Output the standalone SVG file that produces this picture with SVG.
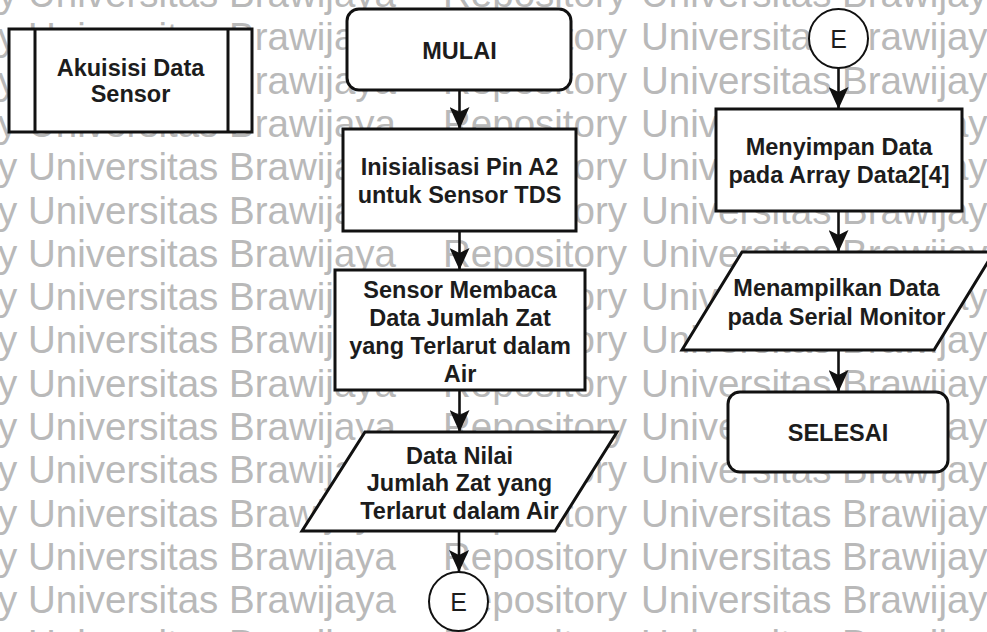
<svg xmlns="http://www.w3.org/2000/svg" xmlns:xlink="http://www.w3.org/1999/xlink" width="987" height="632" viewBox="0 0 987 632">
  <style>
    .wm { font-family: "Liberation Sans", Arial, sans-serif; font-size: 38.5px; fill: #b9b9b9; }
    .box { fill: #ffffff; stroke: #111111; stroke-width: 3; }
    .conn { fill: #ffffff; stroke: #111111; stroke-width: 2; }
    .edge { fill: none; stroke: #111111; stroke-width: 2.6; }
    .lbl { font-family: "Liberation Sans", Arial, sans-serif; font-size: 23.5px; font-weight: bold; fill: #1c1c1c; text-anchor: middle; }
    .clbl { font-family: "Liberation Sans", Arial, sans-serif; font-size: 25px; fill: #1c1c1c; text-anchor: middle; }
  </style>
  <defs>
    <marker id="arrow" markerUnits="userSpaceOnUse" viewBox="0 0 22 20" refX="22" refY="10" markerWidth="22" markerHeight="20" orient="auto">
      <path d="M0,0 L22,10 L0,20 L5,10 Z" fill="#111111"/>
    </marker>
    <g id="wm-row">
      <text class="wm" x="-2" y="0">y Universitas Brawijaya</text>
      <text class="wm" x="443" y="0">Repository</text>
      <text class="wm" x="641" y="0">Universitas Brawijaya</text>
    </g>
  </defs>

  <rect width="987" height="632" fill="#ffffff"/>

  <!-- background watermark rows -->
  <g id="watermark">
    <use xlink:href="#wm-row" y="7"/>
    <use xlink:href="#wm-row" y="50.3"/>
    <use xlink:href="#wm-row" y="93.6"/>
    <use xlink:href="#wm-row" y="136.9"/>
    <use xlink:href="#wm-row" y="180.2"/>
    <use xlink:href="#wm-row" y="223.5"/>
    <use xlink:href="#wm-row" y="266.8"/>
    <use xlink:href="#wm-row" y="310.1"/>
    <use xlink:href="#wm-row" y="353.4"/>
    <use xlink:href="#wm-row" y="396.7"/>
    <use xlink:href="#wm-row" y="440"/>
    <use xlink:href="#wm-row" y="483.3"/>
    <use xlink:href="#wm-row" y="526.6"/>
    <use xlink:href="#wm-row" y="569.9"/>
    <use xlink:href="#wm-row" y="613.2"/>
    <use xlink:href="#wm-row" y="656.5"/>
  </g>

  <!-- connectors -->
  <g id="connectors">
    <line class="edge" x1="459.5" y1="90" x2="459.5" y2="129" marker-end="url(#arrow)"/>
    <line class="edge" x1="459.5" y1="231" x2="459.5" y2="270" marker-end="url(#arrow)"/>
    <line class="edge" x1="459.5" y1="390" x2="459.5" y2="432" marker-end="url(#arrow)"/>
    <line class="edge" x1="459" y1="531" x2="459" y2="572" marker-end="url(#arrow)"/>
    <line class="edge" x1="838.5" y1="68" x2="838.5" y2="109" marker-end="url(#arrow)"/>
    <line class="edge" x1="838.5" y1="211" x2="838.5" y2="252" marker-end="url(#arrow)"/>
    <line class="edge" x1="838.5" y1="350" x2="838.5" y2="392" marker-end="url(#arrow)"/>
  </g>

  <!-- predefined process: data acquisition -->
  <g id="akuisisi">
    <rect class="box" x="9" y="29" width="243" height="103"/>
    <line class="box" x1="35" y1="29" x2="35" y2="132"/>
    <line class="box" x1="228" y1="29" x2="228" y2="132"/>
    <text class="lbl" x="130.5" y="76">Akuisisi Data</text>
    <text class="lbl" x="130.5" y="102">Sensor</text>
  </g>

  <g id="mulai">
    <rect class="box" x="347" y="9" width="224" height="81" rx="12" ry="12"/>
    <text class="lbl" x="459.5" y="59">MULAI</text>
  </g>

  <g id="inisialisasi">
    <rect class="box" x="343" y="129" width="233" height="102"/>
    <text class="lbl" x="459.5" y="175">Inisialisasi Pin A2</text>
    <text class="lbl" x="459.5" y="203">untuk Sensor TDS</text>
  </g>

  <g id="baca-sensor">
    <rect class="box" x="335" y="270" width="250" height="120"/>
    <text class="lbl" x="460" y="298">Sensor Membaca</text>
    <text class="lbl" x="460" y="326">Data Jumlah Zat</text>
    <text class="lbl" x="460" y="354">yang Terlarut dalam</text>
    <text class="lbl" x="460" y="382">Air</text>
  </g>

  <g id="data-nilai">
    <polygon class="box" points="365,432 617,432 555,531 302,531"/>
    <text class="lbl" x="459.5" y="463.5">Data Nilai</text>
    <text class="lbl" x="459.5" y="491">Jumlah Zat yang</text>
    <text class="lbl" x="459.5" y="518.5">Terlarut dalam Air</text>
  </g>

  <g id="konektor-e-keluar">
    <circle class="conn" cx="458.5" cy="601.5" r="29.5"/>
    <text class="clbl" x="458.5" y="611">E</text>
  </g>

  <g id="konektor-e-masuk">
    <circle class="conn" cx="838.5" cy="38.5" r="29.5"/>
    <text class="clbl" x="838.5" y="48">E</text>
  </g>

  <g id="simpan-array">
    <rect class="box" x="716" y="109" width="246" height="102"/>
    <text class="lbl" x="839" y="155">Menyimpan Data</text>
    <text class="lbl" x="839" y="183">pada Array Data2[4]</text>
  </g>

  <g id="tampil-serial">
    <polygon class="box" points="742,252 994,252 934,350 682,350"/>
    <text class="lbl" x="836.5" y="296">Menampilkan Data</text>
    <text class="lbl" x="836.5" y="325">pada Serial Monitor</text>
  </g>

  <g id="selesai">
    <rect class="box" x="728" y="392" width="220" height="80" rx="12" ry="12"/>
    <text class="lbl" x="838" y="440.5">SELESAI</text>
  </g>
</svg>
